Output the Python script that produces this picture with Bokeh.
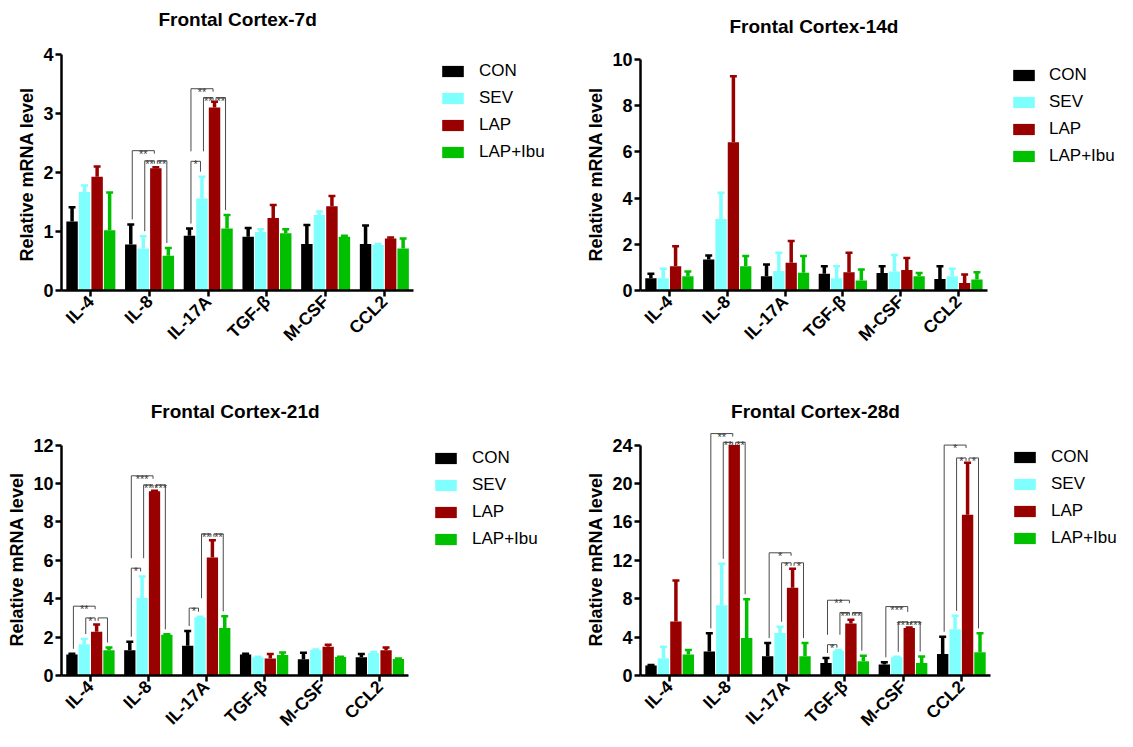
import math
from bokeh.plotting import figure
from bokeh.models import ColumnDataSource, Range1d, FixedTicker, Legend, LegendItem, Title
from bokeh.layouts import gridplot
from bokeh.embed import file_html
from bokeh.resources import INLINE
from bokeh.core.properties import value

FONT = "Liberation Sans"

categories = ["IL-4", "IL-8", "IL-17A", "TGF-β", "M-CSF", "CCL2"]
groups = ["CON", "SEV", "LAP", "LAP+Ibu"]
colors = ["#000000", "#80FFFF", "#990000", "#00C000"]
y_title = "Relative mRNA level"

# ---- Frontal Cortex-7d (means, upper SEM) ----
d7_con = [1.17, 0.78, 0.93, 0.91, 0.79, 0.79]
d7_sev = [1.67, 0.71, 1.56, 0.99, 1.28, 0.77]
d7_lap = [1.93, 2.07, 3.10, 1.23, 1.43, 0.88]
d7_ibu = [1.02, 0.59, 1.05, 0.97, 0.91, 0.71]
d7_con_err = [0.24, 0.34, 0.12, 0.15, 0.32, 0.31]
d7_sev_err = [0.11, 0.21, 0.37, 0.05, 0.06, 0.02]
d7_lap_err = [0.17, 0.02, 0.10, 0.22, 0.17, 0.02]
d7_ibu_err = [0.64, 0.13, 0.23, 0.07, 0.02, 0.17]
d7_sig = [(1, 0, 2, 2.37, "**"), (1, 1, 2, 2.20, "**"), (1, 2, 3, 2.20, "**"),
          (2, 0, 2, 3.42, "**"), (2, 1, 2, 3.27, "**"), (2, 2, 3, 3.27, "**"),
          (2, 0, 1, 2.19, "*")]

# ---- Frontal Cortex-14d ----
d14_con = [0.53, 1.34, 0.62, 0.72, 0.76, 0.50]
d14_sev = [0.53, 3.10, 0.84, 0.53, 0.82, 0.62]
d14_lap = [1.05, 6.42, 1.20, 0.79, 0.89, 0.33]
d14_ibu = [0.62, 1.05, 0.77, 0.43, 0.62, 0.48]
d14_con_err = [0.19, 0.18, 0.51, 0.33, 0.29, 0.55]
d14_sev_err = [0.41, 1.13, 0.79, 0.52, 0.72, 0.32]
d14_lap_err = [0.87, 2.86, 0.94, 0.84, 0.52, 0.36]
d14_ibu_err = [0.20, 0.44, 0.72, 0.48, 0.14, 0.31]
d14_sig = []

# ---- Frontal Cortex-21d ----
d21_con = [1.10, 1.32, 1.55, 1.10, 0.84, 0.95]
d21_sev = [1.63, 4.03, 3.03, 0.95, 1.33, 1.17]
d21_lap = [2.28, 9.59, 6.14, 0.88, 1.50, 1.32]
d21_ibu = [1.32, 2.12, 2.48, 1.07, 0.96, 0.86]
d21_con_err = [0.03, 0.44, 0.77, 0.03, 0.35, 0.17]
d21_sev_err = [0.27, 1.13, 0.03, 0.03, 0.03, 0.05]
d21_lap_err = [0.37, 0.03, 0.90, 0.24, 0.10, 0.14]
d21_ibu_err = [0.14, 0.03, 0.60, 0.13, 0.02, 0.02]
d21_sig = [(0, 0, 2, 3.61, "**"), (0, 1, 2, 3.00, "*"), (0, 2, 3, 3.00, ""),
           (1, 0, 2, 10.40, "***"), (1, 1, 2, 9.93, "**"), (1, 2, 3, 9.93, "***"),
           (1, 0, 1, 5.59, "*"),
           (2, 0, 1, 3.51, "*"), (2, 1, 2, 7.38, "**"), (2, 2, 3, 7.38, "**")]

# ---- Frontal Cortex-28d ----
d28_con = [1.04, 2.49, 2.00, 1.31, 1.14, 2.24]
d28_sev = [1.80, 7.32, 4.42, 2.59, 1.90, 4.83]
d28_lap = [5.63, 24.00, 9.15, 5.42, 4.94, 16.75]
d28_ibu = [2.18, 3.90, 2.00, 1.48, 1.31, 2.42]
d28_con_err = [0.06, 1.90, 1.38, 0.52, 0.24, 1.80]
d28_sev_err = [1.20, 4.32, 0.66, 0.06, 0.05, 1.39]
d28_lap_err = [4.27, 0.00, 1.97, 0.38, 0.06, 5.42]
d28_ibu_err = [0.48, 4.04, 1.38, 0.59, 0.66, 1.97]
d28_sig = [(1, 0, 2, 25.20, "**"), (1, 1, 2, 24.30, "**"), (1, 2, 3, 24.30, "**"),
           (2, 0, 2, 12.78, "*"), (2, 1, 2, 11.74, "*"), (2, 2, 3, 11.74, "*"),
           (3, 0, 2, 7.84, "**"), (3, 1, 2, 6.56, "**"), (3, 2, 3, 6.56, "**"),
           (3, 0, 1, 3.21, "*"),
           (4, 0, 2, 7.18, "***"), (4, 1, 2, 5.59, "***"), (4, 2, 3, 5.59, "***"),
           (5, 0, 2, 24.00, "*"), (5, 1, 2, 22.66, "*"), (5, 2, 3, 22.66, "*")]

OFFSETS = [-0.32, -0.107, 0.107, 0.32]
BAR_W = 0.195
N = len(categories)


def build(title, means, errs, sig, width, height, mbl, mbb, axis_w, axis_px,
          y_max, y_step, title_px, leg_loc, leg_standoff):
    mbr, mbt = 2, 2
    fw = width - mbl - mbr
    fh = height - mbt - mbb
    px_x = axis_w / N
    px_y = axis_px / y_max
    p = figure(width=width, height=height, output_backend="svg", toolbar_location=None,
               x_range=Range1d(0, fw / px_x), y_range=Range1d(0, fh / px_y),
               min_border_left=mbl, min_border_right=mbr, min_border_top=mbt,
               min_border_bottom=mbb, outline_line_color=None)
    p.xgrid.visible = False
    p.ygrid.visible = False

    # panel title
    p.text(x=[N / 2], y=[title_px / px_y], text=[title], text_font=value(FONT),
           text_font_size="19px", text_font_style="bold", text_color="black",
           text_align="center", text_baseline="middle")

    items = []
    tops = []
    for g, name in enumerate(groups):
        xs = [i + 0.5 + OFFSETS[g] for i in range(N)]
        src = ColumnDataSource(dict(x=xs, top=means[g]))
        r = p.vbar(x="x", top="top", width=BAR_W, bottom=0, source=src,
                   fill_color=colors[g], line_color=None)
        items.append(LegendItem(label=name, renderers=[r]))
        ex = [x for x, e in zip(xs, errs[g]) if e > 0]
        y0 = [m for m, e in zip(means[g], errs[g]) if e > 0]
        y1 = [m + e for m, e in zip(means[g], errs[g]) if e > 0]
        p.segment(x0=ex, y0=y0, x1=ex, y1=y1, line_color=colors[g], line_width=3.5)
        cap = 3.5 / px_x
        p.segment(x0=[x - cap for x in ex], y0=y1, x1=[x + cap for x in ex], y1=y1,
                  line_color=colors[g], line_width=2.5)
        tops.append([m + e for m, e in zip(means[g], errs[g])])

    # significance brackets
    inset = 1.5 / px_x
    bx0, by0, bx1, by1 = [], [], [], []
    tx, ty, tl = [], [], []
    for (c, a, b, y, lab) in sig:
        xa = c + 0.5 + OFFSETS[a] + inset
        xb = c + 0.5 + OFFSETS[b] - inset
        bx0.append(xa); by0.append(y); bx1.append(xb); by1.append(y)
        for g, x in ((a, xa), (b, xb)):
            bottom = tops[g][c] + 5 / px_y
            for (c2, a2, b2, y2, _l) in sig:
                if c2 == c and y2 < y and a2 <= g <= b2:
                    bottom = max(bottom, y2 + 10 / px_y)
            bottom = min(bottom, y - 3 / px_y)
            bx0.append(x); by0.append(y); bx1.append(x); by1.append(bottom)
        if lab:
            tx.append((xa + xb) / 2); ty.append(y); tl.append(lab)
    if bx0:
        p.segment(x0=bx0, y0=by0, x1=bx1, y1=by1, line_color="#4a4a4a", line_width=1)
    if tx:
        p.text(x=tx, y=ty, text=tl, text_font=value(FONT), text_font_size="11px",
               text_color="#3a3a3a", text_align="center", text_baseline="alphabetic",
               y_offset=3)

    # axes
    ticks = [i + 0.5 for i in range(N)]
    p.xaxis.ticker = FixedTicker(ticks=ticks)
    p.xaxis.major_label_overrides = {t: c for t, c in zip(ticks, categories)}
    p.xaxis.major_label_orientation = math.pi / 4
    p.xaxis.bounds = (0, N)
    p.yaxis.ticker = FixedTicker(ticks=[v * y_step for v in range(int(round(y_max / y_step)) + 1)])
    p.yaxis.bounds = (0, y_max)
    for ax in (p.xaxis[0], p.yaxis[0]):
        ax.axis_line_width = 2.5
        ax.axis_line_color = "black"
        ax.major_tick_line_width = 2.5
        ax.major_tick_line_color = "black"
        ax.major_tick_in = 0
        ax.major_tick_out = 6
        ax.minor_tick_out = 0
        ax.minor_tick_in = 0
        ax.major_label_text_font = FONT
        ax.major_label_text_font_style = "bold"
        ax.major_label_text_color = "black"
    p.xaxis.major_label_text_font_size = "17.5px"
    p.yaxis.major_label_text_font_size = "18px"
    p.xaxis.major_label_standoff = 2
    p.yaxis.major_label_standoff = 2

    # y-axis title, aligned along the axis span (not the whole frame)
    ylab = Title(text=y_title, align="left", offset=29, standoff=8,
                 text_font=FONT, text_font_size="18px", text_font_style="bold",
                 text_color="black")
    p.add_layout(ylab, "left")

    legend = Legend(items=items, location=leg_loc, orientation="vertical",
                    glyph_width=27, glyph_height=14, label_standoff=leg_standoff,
                    spacing=0, padding=0, margin=0, label_height=27,
                    label_text_font=FONT, label_text_font_size="17px",
                    label_text_color="black",
                    border_line_color=None, background_fill_alpha=0)
    p.add_layout(legend)
    return p


p1 = build("Frontal Cortex-7d", [d7_con, d7_sev, d7_lap, d7_ibu],
           [d7_con_err, d7_sev_err, d7_lap_err, d7_ibu_err], d7_sig,
           566, 383, 57, 93, 355, 236, 4, 1, 271, (378, 125), 13)
p2 = build("Frontal Cortex-14d", [d14_con, d14_sev, d14_lap, d14_ibu],
           [d14_con_err, d14_sev_err, d14_lap_err, d14_ibu_err], d14_sig,
           559, 383, 71, 93, 349, 231, 10, 2, 264, (370, 121), 12)
p3 = build("Frontal Cortex-21d", [d21_con, d21_sev, d21_lap, d21_ibu],
           [d21_con_err, d21_sev_err, d21_lap_err, d21_ibu_err], d21_sig,
           566, 356, 60, 62, 348, 232, 12, 2, 266, (371, 123), 13)
p4 = build("Frontal Cortex-28d", [d28_con, d28_sev, d28_lap, d28_ibu],
           [d28_con_err, d28_sev_err, d28_lap_err, d28_ibu_err], d28_sig,
           559, 356, 74, 62, 350, 232, 24, 4, 266, (371, 124), 13)

grid = gridplot([[p1, p2], [p3, p4]], toolbar_location=None)
open("out.html", "w").write(file_html(grid, INLINE))
